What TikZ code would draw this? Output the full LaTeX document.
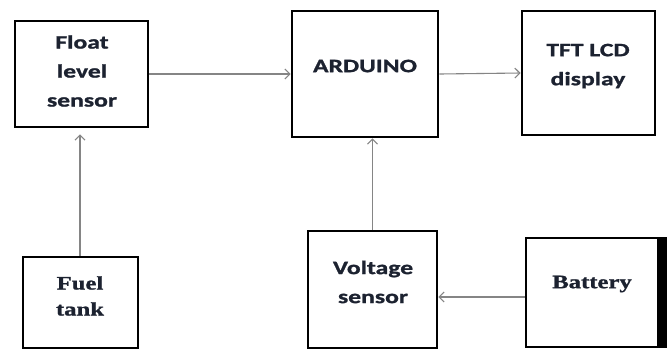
\documentclass[tikz,border=0pt]{standalone}
\usepackage{fontspec}
\usetikzlibrary{arrows.meta}
\newfontfamily\sansb{Carlito}[FakeStretch=1.35,BoldFeatures={FakeBold=1.2}]
\newfontfamily\serifb{Liberation Serif}[FakeStretch=1.3,BoldFeatures={FakeBold=1.2}]
\definecolor{txt}{HTML}{1C2230}
\definecolor{conn}{HTML}{858585}
\tikzset{
  blockbox/.style={draw=black, line width=2.8pt, fill=white, inner sep=0pt},
  sanslbl/.style={font=\sansb\bfseries\fontsize{19}{29}\selectfont, text=txt, align=center, inner sep=0pt},
  seriflbl/.style={font=\serifb\bfseries\fontsize{19}{26}\selectfont, text=txt, align=center, inner sep=0pt},
  conn/.style={draw=conn, line width=1.1pt, -{Straight Barb[length=5pt,width=10pt]}}
}
\begin{document}
\begin{tikzpicture}[x=1pt,y=-1pt]
\useasboundingbox[fill=white] (0,0) rectangle (667,349);
% boxes
\node[blockbox, minimum width=133pt, minimum height=106pt] (float) at (81.5,74) {};
\node[blockbox, minimum width=146pt, minimum height=126pt] (arduino) at (365,74) {};
\node[blockbox, minimum width=133pt, minimum height=124pt] (tft) at (588.5,73) {};
\node[blockbox, minimum width=115pt, minimum height=91pt] (fuel) at (80.5,302.5) {};
\node[blockbox, minimum width=129pt, minimum height=117pt] (volt) at (372.5,289.5) {};
\node[blockbox, minimum width=132pt, minimum height=109pt] (battery) at (592,292.5) {};
\fill[black] (659,237) rectangle (667,348);
% labels
\node[sanslbl] (floatT) at (82,71) {Float\\level\\sensor};
\node[sanslbl] (arduinoT) at (365,66) {ARDUINO};
\node[sanslbl] (tftT) at (588,66) {TFT LCD\\display};
\node[seriflbl] (fuelT) at (80,296) {Fuel\\tank};
\node[sanslbl] (voltT) at (373,282) {Voltage\\sensor};
\node[seriflbl] (batteryT) at (592,284) {Battery};
% connectors
\coordinate (hb) at (0,297);
\draw[conn] (float.east) -- (arduino.west);
\draw[conn] (arduino.east) -- (tft.west);
\draw[conn] (fuel.north -| 80,0) -- ([yshift=-6pt]float.south -| 80,0);
\draw[conn] (volt.north) -- (arduino.south -| volt.north);
\draw[conn] (battery.west |- hb) -- (volt.east |- hb);
\end{tikzpicture}
\end{document}
